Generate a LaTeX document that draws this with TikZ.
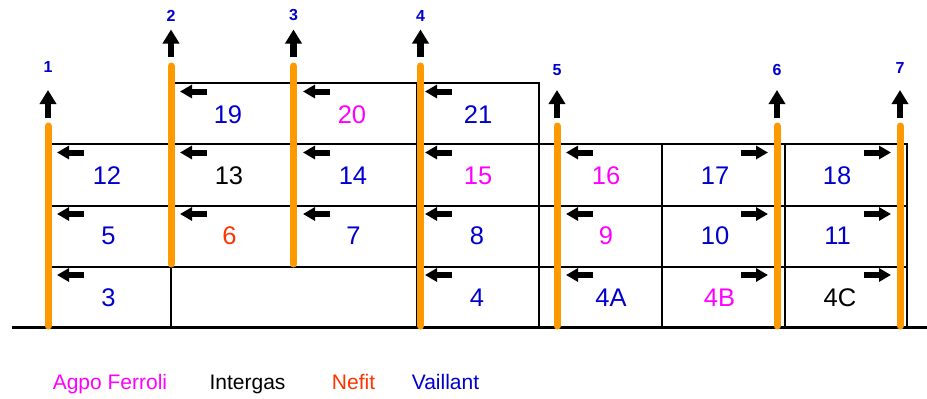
\documentclass[tikz,border=0pt]{standalone}
\usepackage{fontspec}
\setmainfont{Liberation Sans}
\usetikzlibrary{arrows.meta}
\definecolor{vaillant}{RGB}{0,0,204}
\definecolor{ferroli}{RGB}{255,0,255}
\definecolor{nefit}{RGB}{255,51,0}
\definecolor{intergas}{RGB}{0,0,0}
\definecolor{duct}{RGB}{255,153,0}

\begin{document}
\begin{tikzpicture}[x=1pt,y=-1pt,
  wall/.style={line width=2pt, line cap=rect},
  floorline/.style={line width=3pt},
  riserpipe/.style={draw=duct, line width=7pt, line cap=round},
  exhaust/.style={line width=6.3pt, -{Triangle[width=16pt,length=14pt]}},
  flow/.style={line width=6pt, -{Triangle[width=13pt,length=12pt]}},
  cell/.style={font=\fontsize{25.5}{30}\selectfont, inner sep=0pt},
  tag/.style={font=\bfseries\fontsize{16}{19}\selectfont, text=vaillant, inner sep=0pt},
  legend/.style={font=\fontsize{21}{25}\selectfont, anchor=base, inner sep=0pt}]

\useasboundingbox (0,0) rectangle (927,399);

% floor outlines of the apartments
\draw[wall] (172,83) -- (539,83);
\draw[wall] (52,144) -- (907,144);
\draw[wall] (52,206) -- (907,206);
\draw[wall] (52,267) -- (907,267);
\draw[wall] (171,267) -- (171,327);
\draw[wall] (417,83) -- (417,327);
\draw[wall] (539,83) -- (539,327);
\draw[wall] (662,144) -- (662,327);
\draw[wall] (785,144) -- (785,327);
\draw[wall] (907,144) -- (907,327);
\draw[floorline] (12,327) -- (927,327);

% flue risers
\foreach \x/\top/\bot in {48/126/326, 171/66/264, 293.5/66/264, 420.5/66/326,
                          557/126/326, 777/126/326, 900/126/326}
  \draw[riserpipe] (\x,\top) -- (\x,\bot);

% exhaust arrows and riser numbers
\foreach \x/\tail/\tip/\ty/\n in {48/118/90/67/1, 171/57/29.5/15.5/2, 293.5/57/29.5/15.5/3,
                                  420.5/57/29.5/15.5/4, 557/118/90/70/5, 777/118/90/70/6,
                                  900/118/90/68/7}{
  \draw[exhaust] (\x,\tail) -- (\x,\tip);
  \node[tag] (riser\n) at (\x,\ty) {\n};
}

% flow direction in each apartment (towards the riser)
\foreach \y/\tips in {91.5/{180,303,425}, 152.5/{57,180,303,425,566},
                      214/{57,180,303,425,566}, 275/{57,425,566}}
  \foreach \t in \tips
    \draw[flow] (\t+27,\y) -- (\t,\y);
\foreach \y in {152.5,214,275}
  \foreach \t in {768,891}
    \draw[flow] (\t-27,\y) -- (\t,\y);

% apartment numbers, coloured by boiler brand
\node[cell, text=vaillant] (a19) at (228,114.5) {19};
\node[cell, text=ferroli]  (a20) at (352,114.5) {20};
\node[cell, text=vaillant] (a21) at (478,114.5) {21};

\node[cell, text=vaillant] (a12) at (107,176) {12};
\node[cell, text=intergas] (a13) at (229,176) {13};
\node[cell, text=vaillant] (a14) at (353,176) {14};
\node[cell, text=ferroli]  (a15) at (478,176) {15};
\node[cell, text=ferroli]  (a16) at (606,176) {16};
\node[cell, text=vaillant] (a17) at (715,176) {17};
\node[cell, text=vaillant] (a18) at (837,176) {18};

\node[cell, text=vaillant] (a5)  at (108.5,236) {5};
\node[cell, text=nefit]    (a6)  at (229.5,236) {6};
\node[cell, text=vaillant] (a7)  at (353.5,236) {7};
\node[cell, text=vaillant] (a8)  at (477,236) {8};
\node[cell, text=ferroli]  (a9)  at (606,236) {9};
\node[cell, text=vaillant] (a10) at (715,236) {10};
\node[cell, text=vaillant] (a11) at (837.5,236) {11};

\node[cell, text=vaillant] (a3)  at (108.5,298) {3};
\node[cell, text=vaillant] (a4)  at (477,298) {4};
\node[cell, text=vaillant] (a4A) at (611,298) {4A};
\node[cell, text=ferroli]  (a4B) at (719.5,298) {4B};
\node[cell, text=intergas] (a4C) at (840,298) {4C};

% legend
\node[legend, text=ferroli]  (lg1) at (110,389) {Agpo Ferroli};
\node[legend, text=intergas] (lg2) at (247.5,389) {Intergas};
\node[legend, text=nefit]    (lg3) at (353.5,389) {Nefit};
\node[legend, text=vaillant] (lg4) at (445.5,389) {Vaillant};
\end{tikzpicture}
\end{document}
